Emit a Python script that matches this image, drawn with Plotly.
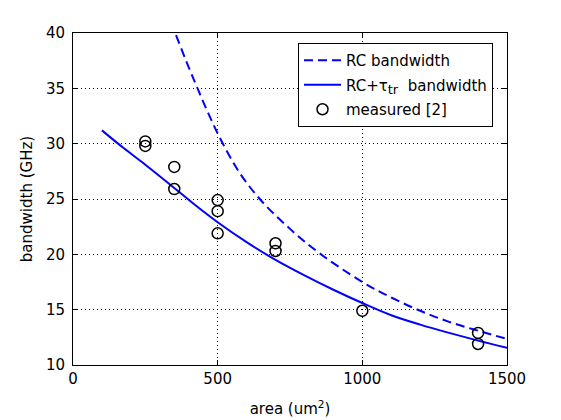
import plotly.graph_objects as go

# RC bandwidth (dashed)
rc_area = [356, 400, 432, 470, 518, 580, 654, 750, 852, 1000, 1100, 1200, 1300, 1400, 1500]
rc_bw = [39.8, 36.9, 34.9, 32.6, 30.0, 27.2, 24.75, 22.3, 20.1, 17.5, 16.1, 14.9, 13.9, 13.1, 12.35]

# RC + tau_tr bandwidth (solid)
rct_area = [100, 175, 250, 350, 420, 500, 600, 700, 800, 900, 1000, 1100, 1200, 1300, 1400, 1500]
rct_bw = [31.2, 29.6, 28.1, 26.0, 24.5, 22.9, 21.1, 19.5, 18.1, 16.8, 15.6, 14.5, 13.65, 12.9, 12.2, 11.55]

# measured points
meas_area = [250, 250, 350, 350, 500, 500, 500, 700, 700, 1000, 1400, 1400]
meas_bw = [30.2, 29.8, 27.9, 25.9, 24.9, 23.9, 21.9, 21.0, 20.3, 14.9, 12.9, 11.9]

x_ticks = [0, 500, 1000, 1500]
y_ticks = [10, 15, 20, 25, 30, 35, 40]

FONT = "DejaVu Sans"

fig = go.Figure()
fig.add_trace(go.Scatter(
    x=rc_area, y=rc_bw, mode="lines", name="RC bandwidth",
    line=dict(color="#0000ff", width=2, dash="9px,5px", shape="spline"),
    legendgroup="a"))
fig.add_trace(go.Scatter(
    x=rct_area, y=rct_bw, mode="lines",
    name="RC+<span style=\"font-size:15px\">τ</span><sub><span style=\"font-size:13px\">tr</span></sub>\u00a0 bandwidth",
    line=dict(color="#0000ff", width=2, shape="spline"),
    legendgroup="b"))
fig.add_trace(go.Scatter(
    x=meas_area, y=meas_bw, mode="markers", name="measured [2]",
    marker=dict(symbol="circle-open", size=11, color="black",
                line=dict(width=1.5, color="black")),
    legendgroup="c"))

axis_common = dict(
    showline=True, linecolor="black", linewidth=1, mirror="ticks",
    ticks="inside", ticklen=5, tickcolor="black", tickwidth=1,
    showgrid=True, gridcolor="black", gridwidth=1, griddash="1px,3px",
    zeroline=False, automargin=False,
    tickfont=dict(family=FONT, size=15, color="black"),
)

fig.update_xaxes(range=[0, 1500], tickvals=x_ticks, ticktext=[str(v) for v in x_ticks],
                 title=dict(text="area (um<sup>2</sup>)", font=dict(family=FONT, size=15, color="black"),
                            standoff=16),
                 **axis_common)
fig.update_yaxes(range=[10, 40], tickvals=y_ticks, ticktext=[str(v) for v in y_ticks],
                 ticklabelstandoff=4,
                 title=dict(text="bandwidth (GHz)", font=dict(family=FONT, size=15, color="black"),
                            standoff=9),
                 **axis_common)

fig.update_layout(
    width=561, height=420,
    margin=dict(l=73, r=54, t=33, b=55, pad=0),
    paper_bgcolor="white", plot_bgcolor="white",
    font=dict(family=FONT, size=15, color="black"),
    showlegend=True,
    legend=dict(
        x=(493 - 73) / (507 - 73), xanchor="right",
        y=1 - (43 - 33) / (365 - 33), yanchor="top",
        bgcolor="white", bordercolor="black", borderwidth=1,
        font=dict(family=FONT, size=15, color="black"),
        tracegroupgap=2, traceorder="grouped", itemwidth=37,
        entrywidth=157,
    ),
)

fig.write_html("out.html")
